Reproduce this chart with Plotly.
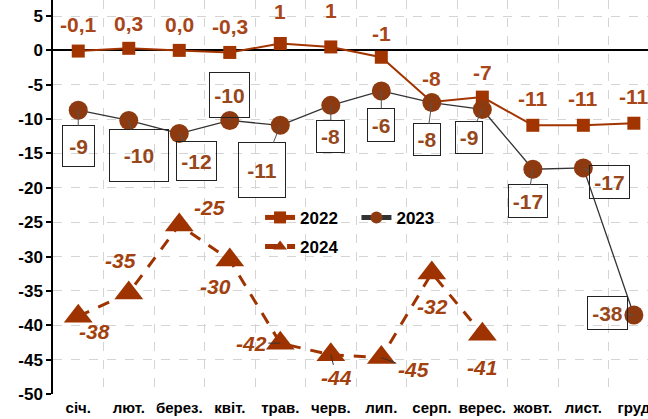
import plotly.graph_objects as go

months = ["січ.", "лют.", "берез.", "квіт.", "трав.", "черв.", "лип.", "серп.", "верес.", "жовт.", "лист.", "груд"]
v2022 = [-0.1, 0.3, 0.0, -0.3, 1.0, 0.5, -1.0, -7.5, -6.8, -10.9, -10.9, -10.6]
t2022 = ["-0,1", "0,3", "0,0", "-0,3", "1", "1", "-1", "-8", "-7", "-11", "-11", "-11"]
v2023 = [-8.7, -10.2, -12.1, -10.2, -10.9, -8.0, -5.9, -7.6, -8.6, -17.3, -17.1, -38.5]
t2023 = ["-9", "-10", "-12", "-10", "-11", "-8", "-6", "-8", "-9", "-17", "-17", "-38"]
v2024 = [-38.7, -35.3, -25.4, -30.5, -42.6, -44.3, -44.7, -32.4, -41.3]
t2024 = ["-38", "-35", "-25", "-30", "-42", "-44", "-45", "-32", "-41"]
yticks = [5, 0, -5, -10, -15, -20, -25, -30, -35, -40, -45, -50]

C22 = "#A23400"
C22T = "#A8461A"
C23 = "#8E3A10"
C23T = "#96481C"
C24 = "#9E3300"
C24T = "#A2400E"
FONT = "Liberation Sans, Arial, sans-serif"

x_all = list(range(len(months)))

fig = go.Figure()
fig.add_trace(go.Scatter(x=x_all, y=v2022, mode="lines+markers", name="2022",
                         line=dict(color=C22, width=2),
                         marker=dict(symbol="square", size=13, color=C22), legend="legend"))
fig.add_trace(go.Scatter(x=x_all, y=v2023, mode="lines+markers", name="2023",
                         line=dict(color="#333333", width=1.3),
                         marker=dict(symbol="circle", size=19, color=C23), legend="legend2"))
fig.add_trace(go.Scatter(x=x_all[:len(v2024)], y=v2024, mode="lines+markers", name="2024",
                         line=dict(color=C24, width=3, dash="12px,10px"),
                         marker=dict(symbol="triangle-up", size=25, color=C24), legend="legend3"))

ann = []
# 2022 labels above markers
y22 = [27, 25, 26, 26, 32, 36, 24, 23, 25, 27, 27, 27]
for i, (v, t) in enumerate(zip(v2022, t2022)):
    ann.append(dict(x=i, y=v, text=t, showarrow=False, yshift=y22[i],
                    font=dict(family=FONT, size=21, color=C22T, weight="bold")))

# 2023 boxed callouts
off23 = [(0, 36, 33, 42), (10, 35, 60, 53), (17, 27, 41, 40), (0, -25, 41, 46), (-18, 45, 48, 56),
         (0, 31, 29, 33), (0, 34, 28, 34), (-5, 37, 28, 33), (-13, 28, 28, 33), (-5, 32, 40, 34),
         (26, 14, 41, 34), (-26, -2, 41, 34)]
for i, (v, t) in enumerate(zip(v2023, t2023)):
    ax, ay, w, h = off23[i]
    ann.append(dict(x=i, y=v, text=t, showarrow=True, ax=ax, ay=ay, arrowhead=0, arrowwidth=1,
                    arrowcolor="#555555", standoff=0, width=w - 4, height=h - 4,
                    bordercolor="#222222", borderwidth=1, borderpad=1, bgcolor="rgba(255,255,255,0)",
                    font=dict(family=FONT, size=21, color=C23T, weight="bold")))

# 2024 italic labels
off24 = [(16, 15, False), (-8, -32, False), (30, -17, False), (-14, 27, False), (-29, 0, True),
         (6, 23, True), (32, 12, True), (1, 33, False), (0, 33, False)]
for i, (v, t) in enumerate(zip(v2024, t2024)):
    ax, ay, arr = off24[i]
    if arr:
        ann.append(dict(x=i, y=v, text=t, showarrow=True, ax=ax, ay=ay, arrowhead=0, arrowwidth=1,
                        arrowcolor="#333333", standoff=0,
                        font=dict(family=FONT, size=21, color=C24T, weight="bold", style="italic")))
    else:
        ann.append(dict(x=i, y=v, text=t, showarrow=False, xshift=ax, yshift=-ay,
                        font=dict(family=FONT, size=21, color=C24T, weight="bold", style="italic")))

legfont = dict(family=FONT, size=17, color="black", weight="bold")
legcommon = dict(xanchor="left", yanchor="middle", font=legfont, bgcolor="rgba(0,0,0,0)",
                 itemwidth=30, itemsizing="constant")
fig.update_layout(
    width=648, height=419,
    margin=dict(l=53, r=0, t=0, b=25),
    paper_bgcolor="white", plot_bgcolor="white",
    showlegend=True,
    annotations=ann,
    legend=dict(x=0.348, y=0.447, **legcommon),
    legend2=dict(x=0.51, y=0.447, **legcommon),
    legend3=dict(x=0.348, y=0.373, **legcommon),
    xaxis=dict(range=[-0.5, len(months) - 0.72], tickvals=x_all, ticktext=months,
               showgrid=False, ticks="", showline=False, zeroline=False, automargin=False,
               ticklabelstandoff=3, ticklabeloverflow="allow",
               tickfont=dict(family=FONT, size=15, color="black", weight="bold"),
               minor=dict(tickvals=[i - 0.5 for i in range(len(months) + 1)], showgrid=True,
                          gridcolor="#d4d4d4", griddash="dash", gridwidth=1, ticks="")),
    xaxis2=dict(overlaying="x", anchor="free", position=50 / 57.33, range=[-0.5, len(months) - 0.72],
                tickvals=[i - 0.5 for i in range(len(months) + 1)], ticks="outside", ticklen=5,
                tickwidth=1.5, tickcolor="black", showticklabels=False, showgrid=False,
                zeroline=False, showline=False, side="bottom"),
    yaxis=dict(range=[-50, 7.33], tickvals=yticks, ticktext=[str(t) for t in yticks],
               showgrid=True, gridcolor="#d4d4d4", griddash="dash", gridwidth=1,
               zeroline=True, zerolinecolor="black", zerolinewidth=2,
               showline=True, linecolor="black", linewidth=1.5,
               ticks="outside", ticklen=5, tickwidth=1.5, tickcolor="black", automargin=False,
               tickfont=dict(family=FONT, size=17, color="black", weight="bold")),
)
fig.write_html("out.html")
